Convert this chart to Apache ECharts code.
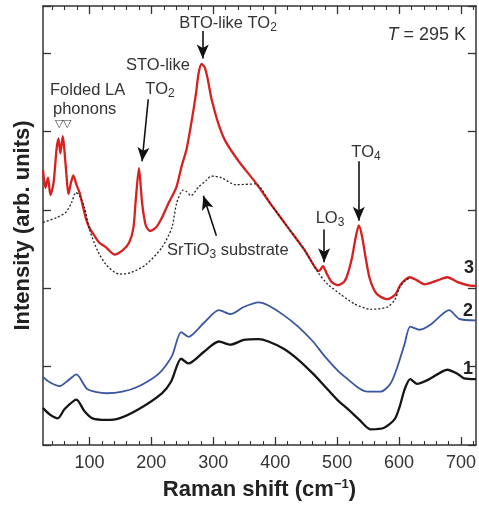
<!DOCTYPE html>
<html>
<head>
<meta charset="utf-8">
<script src="https://cdn.jsdelivr.net/npm/echarts@6/dist/echarts.min.js"></script>
<style>html,body{margin:0;padding:0;background:#fff}#c{width:479px;height:506px}</style>
</head>
<body>
<div id="c"></div>
<script>
// Raman shift (cm^-1) / intensity (arb. units) pairs
const curve1 = [[25,0.47],[36,0.39],[49,0.34],[60,0.46],[79,0.58],[92,0.43],[105,0.34],[127,0.32],[148,0.34],[180,0.46],[217,0.66],[232,0.81],[248,1.10],[260,1.04],[285,1.19],[309,1.32],[328,1.28],[349,1.34],[373,1.35],[389,1.32],[413,1.23],[437,1.09],[461,0.91],[480,0.75],[501,0.57],[517,0.46],[536,0.32],[554,0.20],[576,0.22],[593,0.33],[601,0.49],[609,0.71],[618,0.84],[629,0.78],[649,0.84],[678,0.96],[694,0.91],[705,0.85],[724,0.84]];
const curve2 = [[25,0.87],[36,0.80],[52,0.75],[65,0.82],[79,0.90],[97,0.71],[127,0.66],[153,0.68],[180,0.75],[212,0.91],[233,1.13],[248,1.44],[260,1.38],[285,1.56],[309,1.72],[328,1.67],[349,1.76],[373,1.82],[389,1.78],[413,1.66],[437,1.51],[461,1.32],[480,1.13],[501,0.95],[517,0.84],[536,0.72],[549,0.68],[570,0.68],[586,0.78],[597,0.99],[609,1.29],[618,1.51],[633,1.47],[650,1.53],[681,1.72],[697,1.61],[724,1.59]];
const curve3 = [[25,3.51],[29,3.28],[33,3.41],[37,3.19],[42,3.34],[47,3.78],[50,3.91],[53,3.72],[57,3.94],[60,3.72],[63,3.43],[66,3.20],[70,3.34],[74,3.44],[79,3.32],[84,3.22],[89,3.06],[95,2.87],[100,2.77],[108,2.67],[116,2.58],[127,2.52],[140,2.43],[153,2.48],[164,2.58],[171,2.77],[175,3.15],[180,3.53],[185,3.09],[191,2.80],[198,2.73],[207,2.77],[217,2.90],[228,3.09],[240,3.28],[249,3.56],[257,3.78],[265,4.13],[272,4.48],[276,4.73],[281,4.86],[286,4.82],[291,4.67],[297,4.42],[309,4.08],[320,3.87],[341,3.62],[368,3.35],[394,3.06],[421,2.77],[448,2.48],[464,2.27],[471,2.22],[477,2.28],[483,2.19],[491,2.08],[501,2.04],[511,2.08],[517,2.18],[524,2.39],[530,2.65],[535,2.80],[540,2.67],[546,2.39],[552,2.14],[559,1.99],[565,1.92],[581,1.86],[594,1.92],[602,2.04],[609,2.10],[617,2.14],[629,2.10],[641,2.05],[662,2.10],[678,2.14],[694,2.08],[710,2.04],[724,2.03]];
const substrate = [[25,2.84],[47,2.90],[62,2.97],[71,3.09],[78,3.22],[84,3.18],[92,3.03],[100,2.75],[113,2.48],[127,2.30],[148,2.18],[167,2.20],[191,2.30],[217,2.52],[233,2.77],[241,3.09],[251,3.25],[257,3.23],[264,3.18],[276,3.29],[288,3.37],[297,3.43],[313,3.41],[336,3.32],[368,3.33],[394,3.06],[421,2.77],[448,2.48],[464,2.27],[469,2.20],[485,2.05],[506,1.92],[528,1.80],[554,1.73],[581,1.76],[593,1.85],[601,2.01],[609,2.09],[617,2.13]];
// annotation arrows: [from, to] in data coordinates
const arrows = [
  [[195,4.41],[185,3.62]],
  [[283,5.28],[283,4.93]],
  [[535,3.62],[535,2.86]],
  [[479,2.75],[479,2.33]],
  [[305,2.67],[284,3.18]]
];
const xTickLabels = [100,200,300,400,500,600,700];
const xRange = {min:25, max:724};
const yRange = {min:0, max:5.6, interval:1};

const chart = echarts.init(document.getElementById('c'));
const FF = '"Liberation Sans", Arial, Helvetica, sans-serif';
const axisCol = '#333';
function xAx(pos, labels){
  return {type:'value', position:pos, min:xRange.min, max:xRange.max,
    axisLine:{show:true, onZero:false, lineStyle:{color:axisCol, width:1.5}},
    axisTick:{show:true, inside:true, length:8, lineStyle:{color:axisCol, width:1.3}, customValues:xTickLabels},
    minorTick:{show:true, splitNumber:5, length:4, lineStyle:{color:axisCol, width:1.1}},
    axisLabel:{show:labels, fontSize:18, color:'#333', fontFamily:FF, margin:9, customValues:xTickLabels},
    splitLine:{show:false}, minorSplitLine:{show:false},
    name: labels ? 'Raman shift (cm{sup|−1})' : '', nameLocation:'middle', nameGap:33,
    nameTextStyle:{fontSize:22, fontWeight:'bold', color:'#222', fontFamily:FF,
      rich:{sup:{fontSize:13, fontWeight:'bold', color:'#222', fontFamily:FF, padding:[0,0,11,0]}}}
  };
}
function yAx(pos, name){
  return {type:'value', position:pos, min:yRange.min, max:yRange.max, interval:yRange.interval,
    axisLine:{show:true, onZero:false, lineStyle:{color:axisCol, width:1.5}},
    axisTick:{show:true, inside:true, length:8, lineStyle:{color:axisCol, width:1.3}},
    axisLabel:{show:false}, splitLine:{show:false},
    name: name ? 'Intensity (arb. units)' : '', nameLocation:'middle', nameGap:9,
    nameTextStyle:{fontSize:22, fontWeight:'bold', color:'#222', fontFamily:FF}
  };
}
function line(data, color, width, type, z){
  return {type:'line', data:data, showSymbol:false, symbol:'none', smooth:0.25, z:z,
    lineStyle:{color:color, width:width, type:type}, animation:false};
}
const s3 = line(curve3, '#d8201f', 2.3, 'solid', 4);
s3.markLine = {silent:true, symbol:['none','arrow'], symbolSize:[9,14], animation:false,
  label:{show:false}, lineStyle:{color:'#111', width:1.6, type:'solid'},
  data: arrows.map(a => [{coord:a[0]},{coord:a[1]}])};

const AF = 16.5;
function txt(x, y, text, opt){
  const fs = (opt && opt.fontSize) || AF;
  return {type:'text', x:x, y:y, z:10, style:Object.assign({text:text, fontSize:fs, fontFamily:FF, fill:'#333', align:'center', verticalAlign:'middle',
    rich:{n:{fontSize:fs, fontFamily:FF, fill:'#333'},
          s:{fontSize:Math.round(fs*0.72), fontFamily:FF, fill:'#333', padding:[Math.round(fs*0.6),0,0,0]},
          i:{fontSize:fs, fontFamily:FF, fill:'#333', fontStyle:'italic'}}}, opt||{})};
}
chart.setOption({
  animation:false,
  grid:{left:43, top:6, width:435, height:443, containLabel:false},
  xAxis:[xAx('bottom', true), xAx('top', false)],
  yAxis:[yAx('left', true), yAx('right', false)],
  series:[
    line(curve1, '#151515', 2.3, 'solid', 3),
    line(curve2, '#3a56a0', 1.8, 'solid', 3),
    line(substrate, '#222', 1.3, [2,2], 5),
    s3
  ],
  graphic:[
    txt(228,23,'{n|BTO-like TO}{s|2}'),
    txt(158,65,'STO-like'),
    txt(160,89,'{n|TO}{s|2}'),
    txt(50,90,'Folded LA',{align:'left'}),
    txt(53,109,'phonons',{align:'left'}),
    txt(55,124,'▽▽',{align:'left', fontSize:11}),
    txt(466,35,'{i|T} {n|= 295 K}',{align:'right', fontSize:18}),
    txt(366,152,'{n|TO}{s|4}'),
    txt(330,218,'{n|LO}{s|3}'),
    txt(167,250,'{n|SrTiO}{s|3}{n| substrate}',{align:'left'}),
    txt(469,268,'3',{fontSize:18, fontWeight:'bold', fill:'#222'}),
    txt(468,311,'2',{fontSize:18, fontWeight:'bold', fill:'#222'}),
    txt(468,369,'1',{fontSize:18, fontWeight:'bold', fill:'#222'})
  ]
});
</script>
</body>
</html>
